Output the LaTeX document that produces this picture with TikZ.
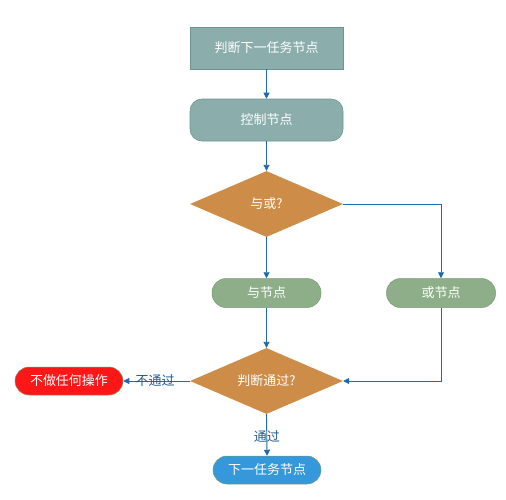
\documentclass[tikz,border=0pt]{standalone}
\usepackage{fontspec}
\newfontfamily\cjk{Noto Sans CJK SC}
\usetikzlibrary{shapes.geometric,arrows.meta}
\definecolor{tealbox}{HTML}{8BAEAC}
\definecolor{tealedge}{HTML}{6E9491}
\definecolor{orangebox}{HTML}{CD8D48}
\definecolor{greenbox}{HTML}{8DAE89}
\definecolor{greenedge}{HTML}{7A9A77}
\definecolor{redbox}{HTML}{FF1717}
\definecolor{bluebox}{HTML}{3498DB}
\definecolor{linecol}{HTML}{1F6AAE}
\definecolor{labelcol}{HTML}{1F5A96}
\begin{document}
\begin{tikzpicture}[x=1pt,y=-1pt,
  every node/.style={font=\cjk\fontsize{13}{15}\selectfont, text=white, inner sep=0pt},
  boxnode/.style={rectangle, fill=tealbox, draw=tealedge, line width=0.6pt, minimum width=153pt, minimum height=42pt},
  roundbox/.style={boxnode, rounded corners=12pt},
  decision/.style={diamond, aspect=2.318, fill=orangebox, draw=none, minimum width=153pt, minimum height=66pt, inner sep=0pt},
  pill/.style={rectangle, rounded corners=14pt, minimum width=109pt, minimum height=29pt, draw=greenedge, line width=0.5pt},
  conn/.style={draw=linecol, line width=0.9pt, -{Triangle[length=6pt,width=6pt]}},
  lbl/.style={text=labelcol, font=\cjk\fontsize{13}{15}\selectfont}
]
\useasboundingbox (0,0) rectangle (506,499);
\node[boxnode] (n1) at (266.5,48) {判断下一任务节点};
\node[roundbox] (n2) at (266.5,120) {控制节点};
\node[decision] (d1) at (266.5,204) {与或?};
\node[pill, fill=greenbox] (and) at (266.5,293) {与节点};
\node[pill, fill=greenbox] (or) at (441,293) {或节点};
\node[decision] (d2) at (266.5,381) {判断通过?};
\node[pill, fill=redbox, draw=greenedge, minimum width=108pt, minimum height=28pt] (no) at (69,381) {不做任何操作};
\node[pill, fill=bluebox, draw=greenedge, minimum width=108pt, minimum height=28pt] (next) at (267,470) {下一任务节点};
\draw[conn] (n1) -- (n2);
\draw[conn] (n2) -- (d1);
\draw[conn] (d1) -- (and);
\draw[conn] (d1.east) -| (or.north);
\draw[conn] (and) -- (d2);
\draw[conn] (or.south) |- (d2.east);
\draw[conn] (d2.west) -- node[lbl, pos=0.52] {不通过} (no.east);
\draw[conn] (d2.south) -- node[lbl, pos=0.53] {通过} (next.north);
\end{tikzpicture}
\end{document}
